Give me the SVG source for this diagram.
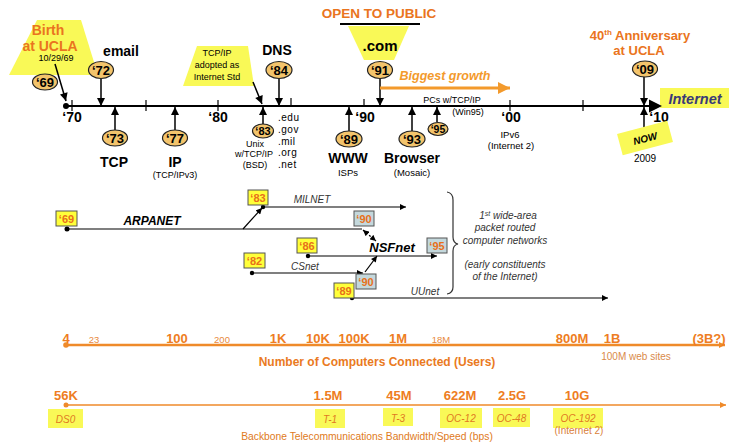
<svg xmlns="http://www.w3.org/2000/svg" width="729" height="442" viewBox="0 0 729 442">
<defs>
<marker id="ah" viewBox="0 0 10 10" refX="10" refY="5" markerWidth="9" markerHeight="8" markerUnits="userSpaceOnUse" orient="auto"><path d="M0,0L10,5L0,10z" fill="#000"/></marker>
<marker id="ahs" viewBox="0 0 10 10" refX="10" refY="5" markerWidth="7" markerHeight="6" markerUnits="userSpaceOnUse" orient="auto-start-reverse"><path d="M0,0L10,5L0,10z" fill="#000"/></marker>
<marker id="aho" viewBox="0 0 10 10" refX="10" refY="5" markerWidth="12" markerHeight="13" markerUnits="userSpaceOnUse" orient="auto"><path d="M0,0L10,5L0,10z" fill="#f39a2c"/></marker>
<marker id="ahb" viewBox="0 0 10 10" refX="10" refY="5" markerWidth="7" markerHeight="6" markerUnits="userSpaceOnUse" orient="auto"><path d="M0,0L10,5L0,10z" fill="#ef8a2a"/></marker>
</defs>
<style>
text{font-family:"Liberation Sans",Arial,sans-serif}
.b{font-weight:bold}
.i{font-style:italic}
.c{text-anchor:middle}
.circ{fill:#f3c46c;stroke:#222;stroke-width:1.2}
.yel{fill:#f9f957}
.ar{stroke:#000;stroke-width:1.5;fill:none;marker-end:url(#ah)}
.thin{stroke:#000;stroke-width:1.2;fill:none;marker-end:url(#ahs)}
.cl{font-size:13px;font-weight:bold;text-anchor:middle}
.yl{font-size:14px;font-weight:bold;text-anchor:middle}
.sm{font-size:9px;text-anchor:middle}
.or{fill:#ea7420}
.ybox{fill:#ffff3a;stroke:#555;stroke-width:1}
.gbox{fill:#c4d8dc;stroke:#555;stroke-width:1}
.bt{font-size:11px;font-weight:bold;fill:#e8701a;text-anchor:middle}
.net{font-size:10px;font-style:italic;fill:#333;text-anchor:middle}
.uo{fill:#ee7d22;font-size:13px;font-weight:bold;text-anchor:middle}
.us{fill:#e88a40;font-size:9.5px;text-anchor:middle}
.bb{fill:#e07a22;font-size:10px;font-style:italic;text-anchor:middle}
</style>

<!-- Yellow callout shapes -->
<g id="birth">
<polygon class="yel" points="37,20 81,20 98,75 9,75"/>
<text x="48" y="35" class="b c or" font-size="14">Birth</text>
<text x="50" y="51" class="b c or" font-size="14">at UCLA</text>
<text x="56" y="61" class="c" font-size="9">10/29/69</text>
</g>
<g id="tcpip-std">
<polygon class="yel" points="197,46 248,46 254,86 183,86"/>
<text x="217" y="56" class="c" font-size="9">TCP/IP</text>
<text x="217" y="68" class="c" font-size="9">adopted as</text>
<text x="217" y="80" class="c" font-size="9">Internet Std</text>
</g>
<g id="open">
<text x="379" y="18" class="b c or" font-size="13.5">OPEN TO PUBLIC</text>
<line x1="340" y1="24" x2="420" y2="24" stroke="#000" stroke-width="2"/>
<polygon class="yel" points="348,26 409,26 394,60 364,60"/>
<text x="380" y="51" class="b c" font-size="15">.com</text>
</g>
<g id="anniv">
<text x="640" y="40" class="b c or" font-size="13">40<tspan font-size="8" dy="-5">th</tspan><tspan dy="5"> Anniversary</tspan></text>
<text x="639" y="55" class="b c or" font-size="13">at UCLA</text>
</g>
<g id="internet">
<rect class="yel" x="660" y="88" width="69" height="20"/>
<text x="695" y="104" class="b i c" font-size="14.5" fill="#3a3a78">Internet</text>
</g>

<!-- Main timeline -->
<g id="timeline">
<line x1="66" y1="106" x2="652" y2="106" stroke="#000" stroke-width="2"/>
<polygon points="649,99.5 662,106 649,112.5" fill="#000"/>
<circle cx="66" cy="106" r="3"/>
<g stroke="#000" stroke-width="1.2">
<line x1="72" y1="100" x2="72" y2="111"/>
<line x1="146" y1="100" x2="146" y2="111"/>
<line x1="218" y1="100" x2="218" y2="111"/>
<line x1="291" y1="98" x2="291" y2="106"/>
<line x1="364" y1="99" x2="364" y2="106"/>
<line x1="510" y1="100" x2="510" y2="111"/>
<line x1="583" y1="100" x2="583" y2="111"/>
</g>
<text x="72" y="122" class="yl">‘70</text>
<text x="218" y="122" class="yl">‘80</text>
<text x="365" y="122" class="yl">‘90</text>
<text x="511" y="122" class="yl">‘00</text>
<text x="659" y="122" class="yl">‘10</text>
</g>

<g id="connectors">
<line class="ar" x1="55" y1="64" x2="66" y2="101"/>
<line class="ar" x1="101" y1="79" x2="101" y2="106"/>
<line class="ar" x1="115" y1="130" x2="115" y2="107"/>
<line class="ar" x1="175" y1="130" x2="175" y2="107"/>
<line class="ar" x1="253" y1="82" x2="262" y2="104" stroke-width="2.5"/>
<line class="ar" x1="263" y1="124" x2="263" y2="107"/>
<line class="ar" x1="279" y1="78" x2="279" y2="106"/>
<line class="ar" x1="349" y1="131" x2="349" y2="107"/>
<line class="ar" x1="380" y1="78" x2="380" y2="106"/>
<line class="ar" x1="412" y1="131" x2="412" y2="107"/>
<line class="ar" x1="437" y1="122" x2="437" y2="107"/>
<line class="ar" x1="644" y1="77" x2="644" y2="106"/>
<line class="ar" x1="644" y1="130" x2="644" y2="107"/>
<line x1="380" y1="88" x2="510" y2="88" stroke="#f39a2c" stroke-width="3" marker-end="url(#aho)"/>
</g>

<g id="e69"><ellipse class="circ" cx="45" cy="82" rx="12.5" ry="8"/><text x="45" y="86.5" class="cl">‘69</text></g>
<g id="e72"><ellipse class="circ" cx="101" cy="70" rx="12.5" ry="8.5"/><text x="101" y="74.5" class="cl">‘72</text>
<text x="121" y="56" class="b c" font-size="14">email</text></g>
<g id="e73"><ellipse class="circ" cx="115" cy="138" rx="12.5" ry="8"/><text x="115" y="142.5" class="cl">‘73</text>
<text x="114" y="167" class="b c" font-size="14">TCP</text></g>
<g id="e77"><ellipse class="circ" cx="175" cy="138" rx="12.5" ry="8"/><text x="175" y="142.5" class="cl">‘77</text>
<text x="175" y="167" class="b c" font-size="14">IP</text>
<text x="175" y="178" class="c" font-size="9">(TCP/IPv3)</text></g>
<g id="e83"><ellipse class="circ" cx="263" cy="131" rx="10.5" ry="7"/><text x="263" y="135" class="c b" font-size="11">‘83</text>
<text x="255" y="147" class="sm" font-size="8.5">Unix</text>
<text x="254" y="157" class="sm" font-size="8.5">w/TCP/IP</text>
<text x="255" y="168" class="sm" font-size="8.5">(BSD)</text></g>
<g id="e84"><ellipse class="circ" cx="279" cy="70" rx="13" ry="8.5"/><text x="279" y="74.5" class="cl">‘84</text>
<text x="277" y="55" class="b c" font-size="14">DNS</text>
<g font-size="10" letter-spacing="0.5"><text x="278" y="121">.edu</text><text x="278" y="133">.gov</text><text x="278" y="145">.mil</text><text x="278" y="156">.org</text><text x="278" y="168">.net</text></g></g>
<g id="e89"><ellipse class="circ" cx="349" cy="139" rx="13" ry="8"/><text x="349" y="143.5" class="cl">‘89</text>
<text x="348" y="163" class="b c" font-size="14">WWW</text>
<text x="348" y="176" class="c" font-size="9.5">ISPs</text></g>
<g id="e91"><ellipse class="circ" cx="380" cy="70" rx="12.5" ry="8.5"/><text x="380" y="74.5" class="cl">‘91</text>
<text x="445" y="80" class="b i c" font-size="12.5" fill="#f39a2c">Biggest growth</text></g>
<g id="e93"><ellipse class="circ" cx="412" cy="139" rx="13" ry="8"/><text x="412" y="143.5" class="cl">‘93</text>
<text x="412" y="163" class="b c" font-size="14">Browser</text>
<text x="412" y="176" class="c" font-size="9.5">(Mosaic)</text></g>
<g id="e95"><ellipse class="circ" cx="438" cy="129" rx="10" ry="6.5"/><text x="438" y="133" class="c b" font-size="10.5">‘95</text>
<text x="452" y="103" class="c" font-size="9">PCs w/TCP/IP</text>
<text x="468" y="115" class="c" font-size="9">(Win95)</text></g>
<g id="e00"><text x="510" y="138" class="c" font-size="9.5">IPv6</text>
<text x="511" y="149" class="c" font-size="9.5">(Internet 2)</text></g>
<g id="e09"><ellipse class="circ" cx="645" cy="69" rx="12.5" ry="8"/><text x="645" y="73.5" class="cl">‘09</text></g>
<g id="now">
<rect class="yel" x="619" y="127" width="52" height="22" transform="rotate(-15 645 138)"/>
<text x="645" y="142" class="b i c" font-size="10" transform="rotate(-15 645 138)">NOW</text>
<text x="645" y="162" class="c" font-size="10">2009</text>
</g>

<!-- Networks -->
<g id="net-connectors">
<line x1="67" y1="229" x2="362" y2="229" stroke="#000" stroke-width="1.2"/>
<line class="thin" x1="243" y1="229" x2="262" y2="208"/>
<line class="thin" x1="263" y1="207" x2="406" y2="207"/>
<line x1="363" y1="230" x2="376" y2="241" stroke="#000" stroke-width="1.2" stroke-dasharray="2,2" marker-start="url(#ahs)" marker-end="url(#ahs)"/>
<line class="thin" x1="308" y1="256" x2="437" y2="256"/>
<line class="thin" x1="252" y1="273" x2="363" y2="273"/>
<line class="thin" x1="365" y1="272" x2="377" y2="256"/>
<line class="thin" x1="352" y1="298" x2="608" y2="298"/>
<path d="M447,192 Q453,193 453,200 L453,237 Q453,243 458,244 Q453,245 453,251 L453,287 Q453,293 447,294" fill="none" stroke="#333" stroke-width="1.2"/>
<g fill="#000"><circle cx="67" cy="229" r="2.5"/><circle cx="263" cy="207" r="2.2"/><circle cx="308" cy="256" r="2.2"/><circle cx="252" cy="273" r="2.2"/><circle cx="352" cy="298" r="2.2"/></g>
</g>
<g id="arpanet"><rect class="ybox" x="56" y="211" width="21" height="15"/><text x="66.5" y="223" class="bt">‘69</text>
<text x="152" y="225" class="b i c" font-size="12">ARPANET</text></g>
<g id="milnet"><rect class="ybox" x="248" y="190" width="20" height="15"/><text x="258" y="202" class="bt">‘83</text>
<text x="312" y="203" class="net">MILNET</text></g>
<g id="arp90"><rect class="gbox" x="354" y="211" width="20" height="15"/><text x="364" y="223" class="bt">‘90</text></g>
<g id="nsfnet"><rect class="ybox" x="297" y="238" width="20" height="15"/><text x="307" y="250" class="bt">‘86</text>
<text x="392" y="252" class="b i c" font-size="13">NSFnet</text>
<rect class="gbox" x="427" y="238" width="20" height="15"/><text x="437" y="250" class="bt">‘95</text></g>
<g id="csnet"><rect class="ybox" x="244" y="253" width="21" height="15"/><text x="254.5" y="265" class="bt">‘82</text>
<text x="305" y="270" class="net">CSnet</text>
<rect class="gbox" x="356" y="274" width="20" height="15"/><text x="366" y="286" class="bt">‘90</text></g>
<g id="uunet"><rect class="ybox" x="334" y="283" width="20" height="15"/><text x="344" y="295" class="bt">‘89</text>
<text x="425" y="295" class="net">UUnet</text></g>
<g id="net-note">
<text x="508" y="219" class="net">1<tspan font-size="7" dy="-3">st</tspan><tspan dy="3">  wide-area</tspan></text>
<text x="505" y="231" class="net">packet routed</text>
<text x="505" y="244" class="net">computer networks</text>
<text x="505" y="268" class="net">(early constituents</text>
<text x="505" y="280" class="net">of the Internet)</text>
</g>

<!-- Users -->
<g id="users">
<line x1="66" y1="345" x2="725" y2="345" stroke="#ef8a2a" stroke-width="2.5" marker-end="url(#ahb)"/>
<circle cx="66" cy="345" r="2.8" fill="#ef8a2a"/>
<text x="66" y="343" class="uo">4</text>
<text x="94" y="343" class="us">23</text>
<text x="177" y="343" class="uo">100</text>
<text x="222" y="343" class="us">200</text>
<text x="278" y="343" class="uo">1K</text>
<text x="318" y="343" class="uo">10K</text>
<text x="354" y="343" class="uo">100K</text>
<text x="398" y="343" class="uo">1M</text>
<text x="441" y="343" class="us">18M</text>
<text x="572" y="343" class="uo">800M</text>
<text x="612" y="343" class="uo">1B</text>
<text x="709" y="343" class="uo">(3B?)</text>
<text x="377" y="366" class="b c" font-size="12" fill="#ea7a22">Number of Computers Connected (Users)</text>
<text x="636" y="360" class="c" font-size="10" fill="#d98a4a">100M web sites</text>
</g>

<!-- Bandwidth -->
<g id="bandwidth">
<line x1="66" y1="405" x2="726" y2="405" stroke="#ef8a2a" stroke-width="1.5" marker-end="url(#ahb)"/>
<circle cx="66" cy="405" r="2.5" fill="#ef8a2a"/>
<text x="66" y="400" class="uo">56K</text>
<text x="328" y="400" class="uo">1.5M</text>
<text x="399" y="400" class="uo">45M</text>
<text x="460" y="400" class="uo">622M</text>
<text x="512" y="400" class="uo">2.5G</text>
<text x="577" y="400" class="uo">10G</text>
<g class="yel"><rect x="48" y="409" width="35" height="19"/><rect x="315" y="409" width="30" height="19"/><rect x="383" y="408" width="30" height="18"/><rect x="440" y="408" width="42" height="20"/><rect x="493" y="408" width="37" height="19"/><rect x="553" y="408" width="50" height="20"/></g>
<text x="65.5" y="423" class="bb">DS0</text>
<text x="330" y="423" class="bb">T-1</text>
<text x="398" y="422" class="bb">T-3</text>
<text x="461" y="422" class="bb">OC-12</text>
<text x="511.5" y="422" class="bb">OC-48</text>
<text x="578" y="422" class="bb">OC-192</text>
<text x="579" y="434" class="c" font-size="10" fill="#d9803a">(Internet 2)</text>
<text x="367" y="440" class="c" font-size="10.3" fill="#e07a22">Backbone Telecommunications Bandwidth/Speed (bps)</text>
</g>
</svg>
